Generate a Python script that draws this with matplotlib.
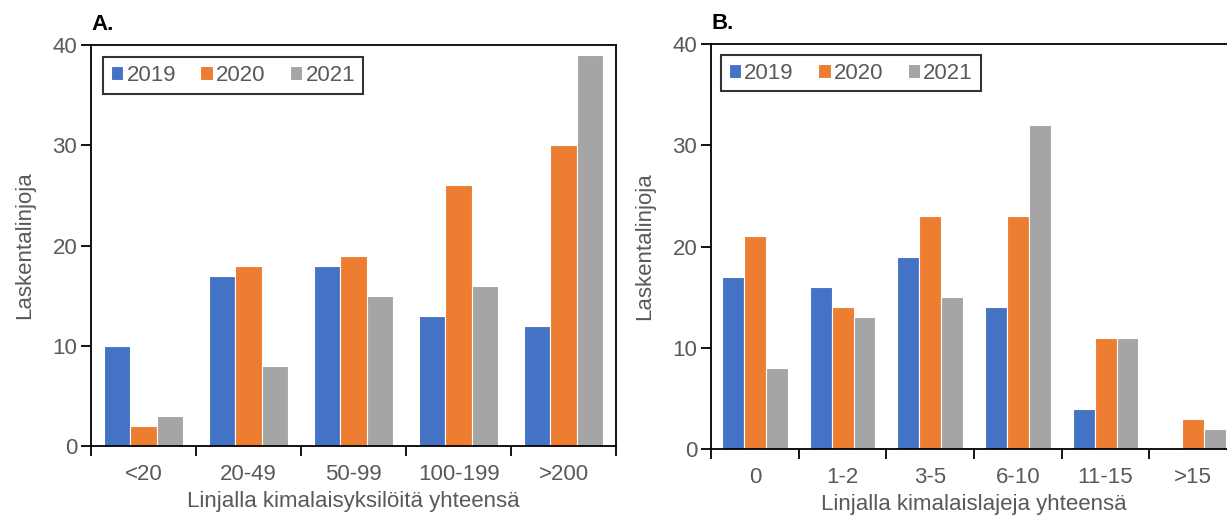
import numpy as np
import matplotlib
matplotlib.use("Agg")
import matplotlib.pyplot as plt

plt.rcParams['font.family'] = ['Liberation Sans', 'DejaVu Sans']

years = ["2019", "2020", "2021"]
colors = ["#4472C4", "#ED7D31", "#A5A5A5"]

# panel A
cats_a = ["<20", "20-49", "50-99", "100-199", ">200"]
a_2019 = [10, 17, 18, 13, 12]
a_2020 = [2, 18, 19, 26, 30]
a_2021 = [3, 8, 15, 16, 39]

# panel B
cats_b = ["0", "1-2", "3-5", "6-10", "11-15", ">15"]
b_2019 = [17, 16, 19, 14, 4, 0]
b_2020 = [21, 14, 23, 23, 11, 3]
b_2021 = [8, 13, 15, 32, 11, 2]

txt_col = "#595959"


def draw(ax, cats, series, xlabel, tag, leg_xy):
    x = np.arange(len(cats))
    width = 0.25
    for i, (vals, c, y) in enumerate(zip(series, colors, years)):
        ax.bar(x + (i - 1) * width, vals, width, color=c, edgecolor="white",
               linewidth=0.8, label=y, zorder=2)
    ax.set_xlim(-0.5, len(cats) - 0.5)
    ax.set_ylim(0, 40)
    ax.set_yticks([0, 10, 20, 30, 40])
    ax.set_xticks(np.arange(len(cats) + 1) - 0.5)
    ax.set_xticklabels([])
    ax.set_xticks(x, minor=True)
    ax.set_xticklabels(cats, minor=True)
    ax.tick_params(axis="x", which="major", length=7, width=1.3, direction="out")
    ax.tick_params(axis="x", which="minor", length=0, pad=13, labelsize=16,
                   labelcolor=txt_col)
    ax.tick_params(axis="y", length=7, width=1.3, labelsize=16, labelcolor=txt_col,
                   pad=3)
    for s in ax.spines.values():
        s.set_linewidth(1.3)
        s.set_color("black")
    ax.set_ylabel("Laskentalinjoja", fontsize=16, color=txt_col, labelpad=12)
    ax.set_xlabel(xlabel, fontsize=16, color=txt_col, labelpad=4)
    leg = ax.legend(loc="upper left", bbox_to_anchor=leg_xy, ncol=3,
                    fontsize=16, frameon=True, fancybox=False, borderaxespad=0,
                    handlelength=0.55, handleheight=0.55, handletextpad=0.15,
                    columnspacing=1.1, borderpad=0.35, labelcolor=txt_col)
    leg.get_frame().set_edgecolor("black")
    leg.get_frame().set_linewidth(1.5)
    ax.text(0.0, 1.025, tag, transform=ax.transAxes, fontsize=16,
            fontweight="bold", va="bottom", ha="left")


fig = plt.figure(figsize=(12.27, 5.17), dpi=100)
ax1 = fig.add_axes([0.0742, 0.1373, 0.4279, 0.7756])
ax2 = fig.add_axes([0.5795, 0.1315, 0.4287, 0.7834])

draw(ax1, cats_a, [a_2019, a_2020, a_2021],
     "Linjalla kimalaisyksilöitä yhteensä", "A.", (0.023, 0.97))
draw(ax2, cats_b, [b_2019, b_2020, b_2021],
     "Linjalla kimalaislajeja yhteensä", "B.", (0.019, 0.973))

fig.savefig("out.png", dpi=100)
